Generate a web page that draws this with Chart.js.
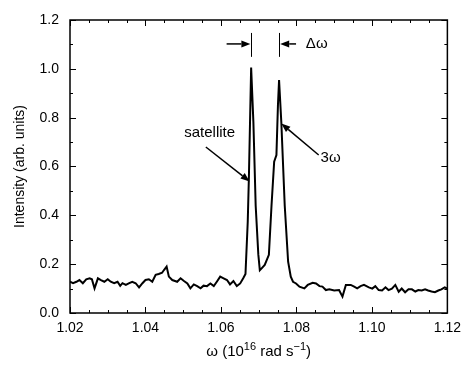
<!DOCTYPE html>
<html>
<head>
<meta charset="utf-8">
<script src="https://cdn.jsdelivr.net/npm/chart.js@4.4.1/dist/chart.umd.min.js"></script>
<style>
  body { margin: 0; background: #fff; }
  #wrap { width: 468px; height: 368px; }
</style>
</head>
<body>
<div id="wrap"><canvas id="chart" width="468" height="368"></canvas></div>
<script>
// spectrum
const omega = [
  1.0200, 1.0208, 1.0217, 1.0225, 1.0234, 1.0243, 1.0252, 1.0258, 1.0265, 1.0274,
  1.0282, 1.0291, 1.0300, 1.0308, 1.0317, 1.0326, 1.0333, 1.0339, 1.0348, 1.0357,
  1.0365, 1.0374, 1.0383, 1.0392, 1.0400, 1.0409, 1.0418, 1.0427, 1.0435, 1.0444,
  1.0449, 1.0456, 1.0462, 1.0471, 1.0484, 1.0493, 1.0502, 1.0511, 1.0519, 1.0528,
  1.0537, 1.0546, 1.0554, 1.0563, 1.0572, 1.0581, 1.0589, 1.0598, 1.0607, 1.0616,
  1.0624, 1.0633, 1.0642, 1.0651, 1.0659, 1.0665, 1.0671, 1.0674, 1.0680, 1.0686,
  1.0692, 1.0699, 1.0703, 1.0709, 1.0716, 1.0727, 1.0734, 1.0741, 1.0747, 1.0751,
  1.0754, 1.0760, 1.0769, 1.0778, 1.0785, 1.0791, 1.0799, 1.0808, 1.0821, 1.0830,
  1.0843, 1.0852, 1.0861, 1.0869, 1.0878, 1.0887, 1.0900, 1.0913, 1.0922, 1.0931,
  1.0944, 1.0953, 1.0961, 1.0970, 1.0979, 1.0992, 1.1001, 1.1009, 1.1018, 1.1027,
  1.1036, 1.1044, 1.1053, 1.1062, 1.1071, 1.1079, 1.1088, 1.1097, 1.1106, 1.1115,
  1.1123, 1.1132, 1.1141, 1.1149, 1.1158, 1.1167, 1.1176, 1.1184, 1.1193, 1.1200
];
const intensity = [
  0.128, 0.122, 0.128, 0.135, 0.122, 0.138, 0.142, 0.138, 0.101, 0.142,
  0.135, 0.128, 0.138, 0.128, 0.122, 0.128, 0.111, 0.122, 0.115, 0.122,
  0.128, 0.122, 0.105, 0.122, 0.135, 0.138, 0.128, 0.156, 0.160, 0.165,
  0.176, 0.190, 0.149, 0.135, 0.128, 0.142, 0.131, 0.121, 0.101, 0.117,
  0.110, 0.101, 0.112, 0.110, 0.121, 0.110, 0.128, 0.149, 0.142, 0.135,
  0.117, 0.131, 0.110, 0.121, 0.142, 0.160, 0.374, 0.553, 1.005, 0.780,
  0.440, 0.240, 0.175, 0.185, 0.197, 0.238, 0.440, 0.620, 0.647, 0.850,
  0.954, 0.780, 0.440, 0.210, 0.149, 0.128, 0.121, 0.108, 0.101, 0.115,
  0.124, 0.121, 0.110, 0.108, 0.094, 0.097, 0.092, 0.094, 0.067, 0.115,
  0.115, 0.108, 0.101, 0.110, 0.115, 0.105, 0.100, 0.110, 0.094, 0.092,
  0.105, 0.094, 0.100, 0.115, 0.087, 0.100, 0.085, 0.097, 0.097, 0.088,
  0.094, 0.092, 0.097, 0.092, 0.088, 0.085, 0.092, 0.097, 0.105, 0.100
];

const xRange = [1.02, 1.12];
const yRange = [0, 1.2];

const points = omega.map(function(w, i) { return { x: w, y: intensity[i] }; });

const family = '"Liberation Sans", Arial, sans-serif';

// inward ticks on all four sides + frame
const frame = {
  id: 'frame',
  afterDatasetsDraw(chart) {
    const ctx = chart.ctx, a = chart.chartArea;
    const x = chart.scales.x, y = chart.scales.y;
    ctx.save();
    ctx.strokeStyle = '#000';
    ctx.lineWidth = 1;
    for (let i = 0; i <= 20; i++) {
      const px = Math.round(x.getPixelForValue(xRange[0] + i * 0.005)) + 0.5;
      const len = i % 4 === 0 ? 6 : 3;
      ctx.beginPath();
      ctx.moveTo(px, a.bottom); ctx.lineTo(px, a.bottom - len);
      ctx.moveTo(px, a.top); ctx.lineTo(px, a.top + len);
      ctx.stroke();
    }
    for (let i = 0; i <= 12; i++) {
      const py = Math.round(y.getPixelForValue(i * 0.1)) + 0.5;
      const len = i % 2 === 0 ? 6 : 3;
      ctx.beginPath();
      ctx.moveTo(a.left, py); ctx.lineTo(a.left + len, py);
      ctx.moveTo(a.right, py); ctx.lineTo(a.right - len, py);
      ctx.stroke();
    }
    ctx.lineWidth = 1.5;
    ctx.strokeRect(a.left, a.top, a.right - a.left, a.bottom - a.top);
    ctx.restore();
  }
};

function arrow(ctx, x1, y1, x2, y2) {
  const ang = Math.atan2(y2 - y1, x2 - x1);
  const hl = 9, hw = 3.5;
  ctx.beginPath();
  ctx.moveTo(x1, y1);
  ctx.lineTo(x2 - Math.cos(ang) * hl, y2 - Math.sin(ang) * hl);
  ctx.stroke();
  ctx.beginPath();
  ctx.moveTo(x2, y2);
  ctx.lineTo(x2 - Math.cos(ang) * hl - Math.sin(ang) * hw, y2 - Math.sin(ang) * hl + Math.cos(ang) * hw);
  ctx.lineTo(x2 - Math.cos(ang) * hl + Math.sin(ang) * hw, y2 - Math.sin(ang) * hl - Math.cos(ang) * hw);
  ctx.closePath();
  ctx.fill();
}

// labels and arrows, placed in data units
const notes = {
  id: 'notes',
  afterDatasetsDraw(chart) {
    const ctx = chart.ctx;
    const X = function(v) { return chart.scales.x.getPixelForValue(v); };
    const Y = function(v) { return chart.scales.y.getPixelForValue(v); };
    ctx.save();
    ctx.strokeStyle = '#000';
    ctx.fillStyle = '#000';
    ctx.font = '15px ' + family;
    ctx.textBaseline = 'middle';

    // delta omega marker
    ctx.lineWidth = 1;
    [1.0680, 1.0755].forEach(function(w) {
      ctx.beginPath();
      ctx.moveTo(Math.round(X(w)) + 0.5, Y(1.147));
      ctx.lineTo(Math.round(X(w)) + 0.5, Y(1.049));
      ctx.stroke();
    });
    ctx.lineWidth = 1.5;
    arrow(ctx, X(1.0615), Y(1.102), X(1.0678), Y(1.102));
    arrow(ctx, X(1.0799), Y(1.102), X(1.0757), Y(1.102));
    ctx.textAlign = 'left';
    ctx.fillText('\u0394\u03c9', X(1.0825), Y(1.102));

    // satellite
    ctx.textAlign = 'center';
    ctx.fillText('satellite', X(1.0570), Y(0.737));
    arrow(ctx, X(1.0560), Y(0.680), X(1.0676), Y(0.539));

    // third harmonic
    ctx.textAlign = 'left';
    ctx.fillText('3\u03c9', X(1.0864), Y(0.635));
    arrow(ctx, X(1.0859), Y(0.647), X(1.0760), Y(0.776));

    // x axis title with real superscripts
    const parts = [
      ['\u03c9 (10', false], ['16', true], [' rad s', false], ['\u22121', true], [')', false]
    ];
    const big = '15px ' + family, small = '11px ' + family;
    let w = 0;
    parts.forEach(function(p) { ctx.font = p[1] ? small : big; w += ctx.measureText(p[0]).width; });
    const a = chart.chartArea;
    let cx = (a.left + a.right) / 2 - w / 2;
    const ty = 350;
    ctx.textAlign = 'left';
    ctx.textBaseline = 'alphabetic';
    parts.forEach(function(p) {
      ctx.font = p[1] ? small : big;
      ctx.fillText(p[0], cx, p[1] ? ty + 0 : ty + 6);
      cx += ctx.measureText(p[0]).width;
    });
    ctx.restore();
  }
};

const font = { family: family, size: 14 };

new Chart(document.getElementById('chart'), {
  type: 'line',
  data: {
    datasets: [{
      data: points,
      borderColor: '#000',
      borderWidth: 2,
      pointRadius: 0,
      tension: 0,
      fill: false
    }]
  },
  options: {
    responsive: false,
    animation: false,
    layout: { padding: { left: 0, right: 17, top: 20, bottom: 0 } },
    plugins: { legend: { display: false }, tooltip: { enabled: false } },
    scales: {
      x: {
        type: 'linear',
        min: xRange[0],
        max: xRange[1],
        grid: { display: false, drawTicks: false },
        border: { display: false },
        ticks: {
          stepSize: 0.02,
          padding: 7,
          color: '#000',
          font: font,
          callback: function(v) { return v.toFixed(2); }
        },
        afterFit: function(s) { s.height = 55; }
      },
      y: {
        min: yRange[0],
        max: yRange[1],
        grid: { display: false, drawTicks: false },
        border: { display: false },
        ticks: {
          stepSize: 0.2,
          padding: 11,
          color: '#000',
          font: font,
          callback: function(v) { return v.toFixed(1); }
        },
        title: {
          display: true,
          text: 'Intensity (arb. units)',
          color: '#000',
          font: { family: family, size: 14 },
          padding: { top: 12, bottom: 0 }
        },
        afterFit: function(s) { s.width = 70; }
      }
    }
  },
  plugins: [frame, notes]
});
</script>
</body>
</html>
